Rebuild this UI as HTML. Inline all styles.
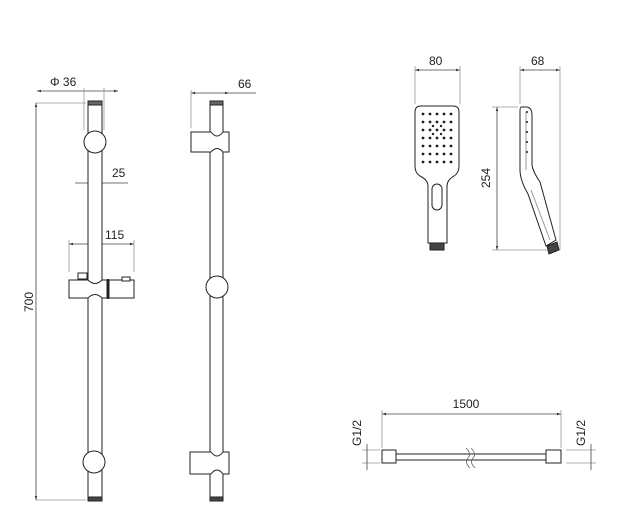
<!DOCTYPE html>
<html><head><meta charset="utf-8"><style>
html,body{margin:0;padding:0;background:#fff}
svg{display:block}
text{font-family:"Liberation Sans",sans-serif;font-size:12px;fill:#222}
</style></head><body>
<svg width="623" height="506" viewBox="0 0 623 506" xmlns="http://www.w3.org/2000/svg">
<defs>
<marker id="a" viewBox="0 0 10 10" refX="10" refY="5" markerWidth="5" markerHeight="5" orient="auto-start-reverse"><path d="M0,2L10,5L0,8z" fill="#333"/></marker>
</defs>
<g stroke="#999" stroke-width="0.8" fill="none">
<!-- left bar dims -->
<line x1="36" y1="103" x2="86" y2="103"/>
<line x1="36" y1="500" x2="86" y2="500"/>
<line x1="36" y1="103" x2="36" y2="500" stroke="#444" marker-start="url(#a)" marker-end="url(#a)"/>
<line x1="37" y1="91" x2="118" y2="91" stroke="#444" marker-start="url(#a)" marker-end="url(#a)"/>
<line x1="84" y1="88" x2="84" y2="130"/><line x1="104" y1="88" x2="104" y2="130"/>
<line x1="75" y1="183" x2="128" y2="183" stroke="#444"/>
<line x1="69" y1="244" x2="134" y2="244" stroke="#444" marker-start="url(#a)" marker-end="url(#a)"/>
<line x1="69" y1="240" x2="69" y2="272"/><line x1="134" y1="240" x2="134" y2="272"/>
<!-- right bar dims -->
<line x1="191" y1="93" x2="229" y2="93" stroke="#444" marker-start="url(#a)" marker-end="url(#a)"/>
<line x1="229" y1="93" x2="256" y2="93" stroke="#444"/>
<line x1="191" y1="90" x2="191" y2="128"/>
<!-- hand shower dims -->
<line x1="415" y1="70" x2="460" y2="70" stroke="#444" marker-start="url(#a)" marker-end="url(#a)"/>
<line x1="415" y1="66" x2="415" y2="104"/><line x1="460" y1="66" x2="460" y2="104"/>
<line x1="520" y1="70" x2="560" y2="70" stroke="#444" marker-start="url(#a)" marker-end="url(#a)"/>
<line x1="520" y1="66" x2="520" y2="104"/><line x1="560" y1="66" x2="560" y2="250"/>
<line x1="497" y1="107" x2="497" y2="250" stroke="#444" marker-start="url(#a)" marker-end="url(#a)"/>
<line x1="492" y1="107" x2="518" y2="107"/><line x1="492" y1="250" x2="548" y2="250"/>
<!-- hose dims -->
<line x1="382" y1="414" x2="561" y2="414" stroke="#444" marker-start="url(#a)" marker-end="url(#a)"/>
<line x1="382" y1="410" x2="382" y2="448"/><line x1="561" y1="410" x2="561" y2="448"/>
<line x1="362" y1="450" x2="380" y2="450"/><line x1="362" y1="463" x2="380" y2="463"/>
<line x1="367" y1="444" x2="367" y2="470" stroke="#444"/>
<line x1="566" y1="450" x2="596" y2="450"/><line x1="566" y1="463" x2="596" y2="463"/>
<line x1="591" y1="444" x2="591" y2="470" stroke="#444"/>
</g>
<g stroke="#222" stroke-width="1" fill="#fff">
<!-- left bar -->
<rect x="88" y="103" width="14" height="397"/>
<rect x="88" y="101" width="14" height="4" fill="#666"/>
<rect x="88" y="497" width="14" height="4" fill="#444"/>
<circle cx="95" cy="142" r="11"/>
<circle cx="94" cy="462" r="11"/>
<path d="M69,280 H88 Q95,287 102,280 H107 V298 H102 Q95,291 88,298 H69 Z"/>
<path d="M109,280 H134 V298 H109 Z"/>
<line x1="108" y1="279" x2="108" y2="299" stroke-width="2"/>
<rect x="78" y="273" width="9" height="6"/><rect x="122" y="277" width="8" height="4"/>
<!-- right bar -->
<rect x="210" y="103" width="13" height="397"/>
<rect x="210" y="101" width="13" height="4" fill="#666"/>
<rect x="210" y="497" width="13" height="4" fill="#444"/>
<path d="M191,132 H211 Q217,140 223,132 H229 V152 H223 Q217,145 211,152 H191 Z"/>
<circle cx="217" cy="287" r="11"/>
<path d="M190,452 H211 Q217,460 223,452 H229 V474 H223 Q217,466 211,474 H190 Z"/>
<!-- hand shower front -->
<path d="M428,243 V186 Q428,180 420,176 Q415,173 415,166 V112 Q415,106 421,106 H453 Q459,106 459,112 V166 Q459,173 454,176 Q447,180 447,186 V243 Z"/>
<rect x="432" y="184" width="10" height="26" rx="5"/>
<rect x="430" y="243" width="14" height="7" fill="#444"/>
<!-- hand shower side -->
<path d="M521,107 H527 Q532,108 532,115 V165 Q533,172 540,182 L556,240 L546,246 L528,194 Q520,180 520,170 V112 Q520,107 521,107 Z"/>
<path d="M547,246 L557,242 L559,250 L549,254 Z" fill="#444"/>
<line x1="526" y1="112" x2="526" y2="170" stroke="#999"/>
<line x1="531" y1="190" x2="550" y2="240" stroke="#999"/>
<!-- hose -->
<rect x="382" y="450" width="14" height="13"/>
<rect x="546" y="450" width="15" height="13"/>
<rect x="396" y="454" width="150" height="6"/>
<path d="M466,448 Q472,454 468,458 Q464,462 470,468 M471,448 Q477,454 473,458 Q469,462 475,468" fill="none" stroke="#666" stroke-width="0.8"/>
</g>
<g fill="#222">
<!-- nozzle dots -->
<g id="r"><circle cx="423" cy="114" r="1.4"/><circle cx="430" cy="114" r="1.4"/><circle cx="437" cy="114" r="1.4"/><circle cx="444" cy="114" r="1.4"/><circle cx="451" cy="114" r="1.4"/></g>
<use href="#r" y="8"/><use href="#r" y="16"/><use href="#r" y="24"/><use href="#r" y="32"/><use href="#r" y="40"/><use href="#r" y="48"/>
<circle cx="433" cy="126" r="1.2"/><circle cx="441" cy="126" r="1.2"/><circle cx="437" cy="130" r="1.2"/><circle cx="433" cy="134" r="1.2"/><circle cx="441" cy="134" r="1.2"/><circle cx="437" cy="138" r="1.2"/>
<circle cx="527" cy="112" r="1"/><circle cx="527" cy="122" r="1"/><circle cx="527" cy="132" r="1"/><circle cx="527" cy="142" r="1"/><circle cx="527" cy="152" r="1"/>
</g>
<text x="50" y="86">Φ 36</text>
<text x="112" y="177">25</text>
<text x="105" y="239">115</text>
<text x="238" y="88">66</text>
<text x="429" y="65">80</text>
<text x="531" y="65">68</text>
<text x="466" y="408" text-anchor="middle">1500</text>
<text transform="translate(33,302) rotate(-90)" text-anchor="middle">700</text>
<text transform="translate(490,178) rotate(-90)" text-anchor="middle">254</text>
<text transform="translate(361,433) rotate(-90)" text-anchor="middle">G1/2</text>
<text transform="translate(585,433) rotate(-90)" text-anchor="middle">G1/2</text>
</svg>
</body></html>
